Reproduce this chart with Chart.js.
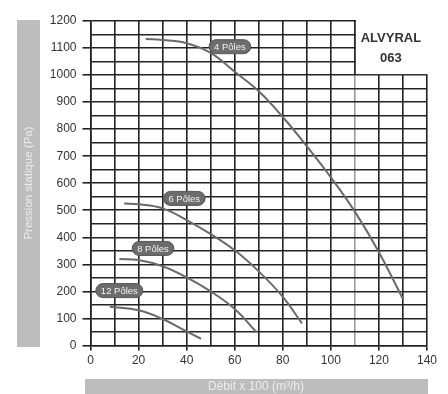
<!DOCTYPE html>
<html><head><meta charset="utf-8">
<script src="https://cdn.jsdelivr.net/npm/chart.js@4/dist/chart.umd.min.js"></script>
<style>html,body{margin:0;padding:0;background:#fff;}canvas{display:block}</style>
</head><body>
<canvas id="c" width="448" height="394"></canvas>
<script>
// Fan curves: static pressure (Pa) versus airflow (x 100 m³/h)
const seriesNames = ['4 Pôles', '6 Pôles', '8 Pôles', '12 Pôles'];
const flow4 = [23, 30, 40, 50, 60, 70, 80, 90, 100, 110, 120, 130];
const pres4 = [1133, 1130, 1118, 1082, 1012, 940, 845, 737, 622, 495, 345, 172];
const flow6 = [14, 20, 30, 40, 50, 60, 70, 80, 88];
const pres6 = [525, 522, 507, 464, 412, 352, 274, 180, 82];
const flow8 = [12, 20, 30, 40, 50, 60, 69];
const pres8 = [320, 316, 293, 252, 200, 135, 50];
const flow12 = [8, 20, 30, 40, 46];
const pres12 = [143, 130, 98, 52, 25];
// where each curve's name tag sits (flow, pressure)
const tagFlow = [58, 39, 26, 12];
const tagPres = [1105, 544, 359, 203];
const modelName = 'ALVYRAL';
const modelSize = '063';
const xTitle = 'Débit x 100 (m³/h)';
const yTitle = 'Pression statique (Pa)';

const flows = [flow4, flow6, flow8, flow12];
const pressures = [pres4, pres6, pres8, pres12];
const GRID = '#222';
const FONT = '"Liberation Sans", Arial, sans-serif';

const datasets = flows.map((f, i) => ({
  label: seriesNames[i],
  data: f.map((x, j) => ({ x: x, y: pressures[i][j] })),
  borderColor: '#6a6a6a',
  borderWidth: 2,
  pointRadius: 0,
  showLine: true,
  fill: false,
  tension: 0.4
}));

const decor = {
  id: 'decor',
  beforeDraw(chart) {
    const c = chart.ctx;
    c.save();
    c.fillStyle = '#fff';
    c.fillRect(0, 0, chart.width, chart.height);
    // axis title bars
    c.fillStyle = '#bdbdbd';
    c.fillRect(17, 20, 23, 327);
    c.fillRect(85, 379, 343, 20);
    c.fillStyle = '#ececec';
    c.textAlign = 'center';
    c.textBaseline = 'middle';
    c.font = '12px ' + FONT;
    c.fillText(xTitle, 256, 387);
    c.font = '11.5px ' + FONT;
    c.translate(29, 183);
    c.rotate(-Math.PI / 2);
    c.fillText(yTitle, 0, 0);
    c.restore();
  },
  beforeDatasetsDraw(chart) {
    const c = chart.ctx, xs = chart.scales.x, ys = chart.scales.y;
    const a = chart.chartArea;
    const x110 = xs.getPixelForValue(110), y1000 = ys.getPixelForValue(1000);
    c.save();
    c.fillStyle = '#fff';
    c.fillRect(x110 + 1, 0, chart.width - x110, y1000 - 1);
    c.strokeStyle = GRID;
    c.lineWidth = 1.6;
    c.beginPath();
    c.moveTo(x110, a.top - 0.8);
    c.lineTo(x110, y1000);
    c.stroke();
    c.fillStyle = '#333';
    c.font = 'bold 13px ' + FONT;
    c.textAlign = 'center';
    c.textBaseline = 'middle';
    const cx = (x110 + xs.getPixelForValue(140)) / 2;
    c.fillText(modelName, cx, 38);
    c.fillText(modelSize, cx, 58);
    c.restore();
  },
  afterDatasetsDraw(chart) {
    const c = chart.ctx, xs = chart.scales.x, ys = chart.scales.y;
    c.save();
    c.font = '9.5px ' + FONT;
    c.textAlign = 'center';
    c.textBaseline = 'middle';
    seriesNames.forEach((name, i) => {
      const px = xs.getPixelForValue(tagFlow[i]);
      const py = ys.getPixelForValue(tagPres[i]);
      const w = c.measureText(name).width + 10, h = 14, r = 7;
      c.beginPath();
      c.roundRect(px - w / 2, py - h / 2, w, h, r);
      c.fillStyle = '#6c6c6c';
      c.fill();
      c.lineWidth = 1;
      c.strokeStyle = '#555';
      c.stroke();
      c.fillStyle = '#f4f4f4';
      c.fillText(name, px, py + 0.5);
    });
    c.restore();
  }
};

new Chart(document.getElementById('c'), {
  type: 'scatter',
  data: { datasets: datasets },
  plugins: [decor],
  options: {
    responsive: false,
    animation: false,
    layout: { padding: { left: 0, right: 21, top: 21, bottom: 0 } },
    plugins: { legend: { display: false }, tooltip: { enabled: false } },
    scales: {
      x: {
        type: 'linear', min: 0, max: 140,
        afterFit(s) { s.height = 48.5; },
        ticks: {
          stepSize: 10, autoSkip: false, maxRotation: 0, padding: 3,
          color: '#333', font: { family: FONT, size: 12 },
          callback: v => (v % 20 === 0 ? v : '')
        },
        grid: {
          color: ctx => (ctx.tick && ctx.tick.value === 110 ? '#9a9a9a' : GRID),
          lineWidth: 1.6, tickLength: 5,
          tickColor: ctx => (ctx.tick && ctx.tick.value % 20 === 0 ? GRID : 'rgba(0,0,0,0)')
        },
        border: { color: GRID, width: 1.6 }
      },
      y: {
        type: 'linear', min: 0, max: 1200,
        afterFit(s) { s.width = 90.5; },
        ticks: {
          stepSize: 50, autoSkip: false, padding: 6,
          color: '#333', font: { family: FONT, size: 12 },
          callback: v => (v % 100 === 0 ? v : '')
        },
        grid: {
          color: GRID, lineWidth: 1.6, tickLength: 8,
          tickColor: ctx => (ctx.tick && ctx.tick.value % 100 === 0 ? GRID : 'rgba(0,0,0,0)')
        },
        border: { color: GRID, width: 1.6 }
      }
    }
  }
});
</script>
</body></html>
